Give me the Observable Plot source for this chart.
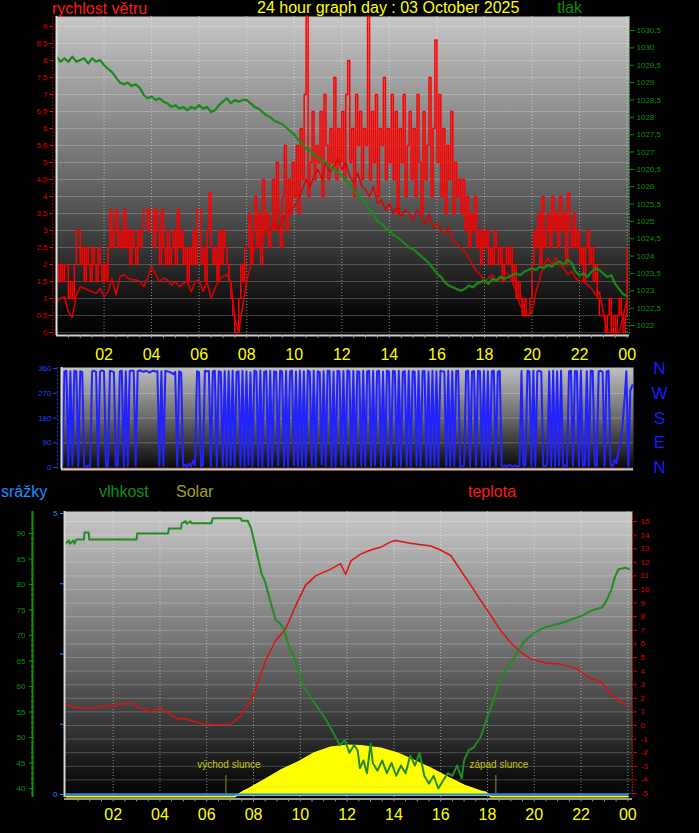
<!DOCTYPE html>
<html><head><meta charset="utf-8">
<script src="https://cdn.jsdelivr.net/npm/d3@7"></script>
<script src="https://cdn.jsdelivr.net/npm/@observablehq/plot@0.6"></script>
<style>
html,body{margin:0;padding:0;background:#000;}
#wrap{position:relative;width:699px;height:833px;background:#000;overflow:hidden;font-family:"Liberation Sans",Arial,sans-serif;}
#wrap svg{position:absolute;left:0;}
.lbl{position:absolute;font-size:16px;line-height:16px;white-space:nowrap;}
</style></head><body><div id="wrap"></div>
<script>
// ---------- DATA ----------
const hourTicks = [2,4,6,8,10,12,14,16,18,20,22,24];
const hourLabels = ["02","04","06","08","10","12","14","16","18","20","22","00"];
const windTicks = [0,0.5,1,1.5,2,2.5,3,3.5,4,4.5,5,5.5,6,6.5,7,7.5,8,8.5,9];
const pressTicks = [1022,1022.5,1023,1023.5,1024,1024.5,1025,1025.5,1026,1026.5,1027,1027.5,1028,1028.5,1029,1029.5,1030,1030.5];
const dirTicks = [0,90,180,270,360];
const compassLabels = ["N","E","S","W","N"];
const humTicks = [40,45,50,55,60,65,70,75,80,85,90];
const tempTicks = [-5,-4,-3,-2,-1,0,1,2,3,4,5,6,7,8,9,10,11,12,13,14,15];
const rainTicks = [0,1.25,2.5,3.75,5];
const rainTickLabels = ["0","","","","5"];

// wind gust (m/s), 5-minute samples 00:00..24:00
const gust5 = [
2,1.5,2,1.5,2,2,1,1.5,1,2,3,3,
2,2.5,1.5,2.5,2,1.5,2.5,2,1.5,2.5,2,1.5,
2,1.5,2.5,3.6,2.5,3,3.6,2.5,3,2.5,3.6,2.5,
3,2,3,2.5,2,3,2.5,3,3.6,3.6,3,3.6,
3.6,2.5,3.6,3,2,3.6,2.5,2,3,2,2.5,3,
2,3.6,2.5,3,2,2.5,1.5,2.5,2,3,2,3.6,
3.6,2,2.5,1.5,3,4.1,2.5,2,2.5,1.5,3,2,
3,2.5,2,1.5,1,0.5,0,0,1,2,1.5,2.5,
2.5,3.5,2,3,4,2.5,3.5,2,4.5,3,3.5,2.5,
3,4.5,3,5,3.5,2.5,4,5.5,3,4.5,3.5,5,
4,5.5,3.5,6,4.5,7,9.3,4,5,6.5,4.5,5.5,
5,6.5,4,7,5.5,4.5,6,5,7.5,4.5,6,5,
6.5,4.5,7,8,5,6,4,7,5.5,6.5,4.5,6,
5.5,9.3,4.5,6.5,5,7,4,6,5.5,7.5,4.5,6,
5,7,4.5,6.5,3.5,6,5,7,4,5.5,6.5,4.5,
6,4,7,5,3.5,6.5,4.5,5.5,7.5,4,6,8.6,
5,7,4,6,3.5,5.5,4.5,6.5,3.5,5,4,4.5,
3.5,4.5,3,4,2.5,3.5,3,4,2.5,3,2,3,
2.5,3,2,2.5,2,3,2.5,2,2.5,1.5,2,2.5,
2,2.5,1.5,2,1,1.5,1,0.5,1,0.5,0.5,1,
2,3,2.5,3.5,2,4,2.5,3,3.5,2.5,4,3,
3.5,2.5,4,3,3.5,2,4.1,3,2.5,3.5,2.5,3,
2,2.5,1.5,2.5,3,2,2.5,1.5,2,1,0.5,0.5,
0.5,0,0.5,1,0,0.5,0,0.5,1,0.5,0,0.5,
2.5];

// average wind (m/s), 10-minute samples
const avg10 = [
0.9,1.0,1.05,0.6,0.45,1.1,
1.35,1.3,1.25,1.2,1.15,1.3,
1.05,1.2,1.6,1.1,1.65,1.7,
1.6,1.55,1.55,1.5,1.35,1.6,
1.95,1.7,1.5,1.6,1.55,1.4,
1.5,1.35,1.45,1.5,1.2,1.5,
1.55,1.2,1.5,1.0,1.3,1.55,
1.65,1.7,1.5,0.4,0,0.8,
1.5,2.0,2.5,2.6,2.8,3.0,
3.0,3.2,3.0,3.3,3.5,3.6,
3.7,3.9,4.2,4.5,4.3,4.6,
4.8,4.5,5.0,4.7,4.9,5.1,
4.8,5.0,4.6,4.4,4.7,4.3,
4.2,4.0,4.3,3.8,3.9,3.6,
3.8,3.5,3.7,3.4,3.6,3.5,
3.3,3.6,3.4,3.2,3.5,3.1,
3.2,3.0,2.9,3.1,2.7,2.6,
2.5,2.4,2.2,2.0,1.8,1.7,
1.5,1.6,1.7,1.5,1.6,1.8,
1.7,1.5,1.2,0.8,0.6,0.5,
0.6,1.2,1.6,2.0,2.2,2.0,
2.2,2.0,1.9,1.7,1.8,1.6,
1.5,1.5,1.4,1.3,1.1,1.2,
0.6,0,0,0,0,0.5,
1.0];

// pressure (hPa), 10-minute samples
const press10 = [
1029.75,1029.6,1029.7,1029.6,1029.75,1029.6,
1029.65,1029.7,1029.55,1029.7,1029.6,1029.65,
1029.5,1029.4,1029.3,1029.15,1029.0,1028.95,
1029.0,1028.9,1028.95,1028.85,1028.65,1028.55,
1028.6,1028.5,1028.55,1028.45,1028.4,1028.3,
1028.35,1028.25,1028.3,1028.2,1028.3,1028.25,
1028.35,1028.25,1028.3,1028.15,1028.2,1028.35,
1028.45,1028.55,1028.4,1028.5,1028.45,1028.5,
1028.5,1028.4,1028.3,1028.25,1028.15,1028.05,
1028.0,1027.9,1027.85,1027.8,1027.7,1027.6,
1027.5,1027.35,1027.25,1027.1,1027.05,1026.9,
1026.85,1026.75,1026.7,1026.55,1026.5,1026.4,
1026.35,1026.2,1026.05,1025.9,1025.75,1025.65,
1025.55,1025.35,1025.2,1025.0,1024.95,1024.8,
1024.75,1024.6,1024.55,1024.45,1024.35,1024.25,
1024.2,1024.1,1024.0,1023.9,1023.8,1023.65,
1023.5,1023.4,1023.25,1023.15,1023.1,1023.05,
1023.0,1023.05,1023.15,1023.1,1023.2,1023.25,
1023.3,1023.2,1023.35,1023.3,1023.4,1023.35,
1023.4,1023.45,1023.5,1023.45,1023.55,1023.6,
1023.65,1023.6,1023.7,1023.65,1023.75,1023.7,
1023.8,1023.85,1023.75,1023.9,1023.8,1023.55,
1023.45,1023.5,1023.4,1023.55,1023.65,1023.6,
1023.5,1023.4,1023.45,1023.2,1023.05,1022.9,
1022.85];

// wind direction (degrees), 5-minute samples
const dir5 = [
10,350,352,5,350,8,352,350,6,350,348,5,
3,8,4,350,352,348,5,350,353,350,6,4,
352,350,348,5,8,350,352,4,350,7,351,352,
352,5,350,353,351,348,352,350,345,350,352,349,
350,6,350,8,352,350,348,345,340,348,5,350,
345,5,10,3,15,5,25,8,350,348,5,10,
352,350,351,5,350,352,4,350,348,6,350,5,
350,8,352,5,348,350,6,352,4,350,10,347,
5,352,350,7,353,3,349,350,6,352,5,350,
348,8,352,350,5,351,4,350,352,8,349,5,
352,6,350,4,353,349,7,352,5,350,348,10,
350,5,352,351,6,349,3,352,350,8,351,5,
353,350,6,352,4,350,349,7,352,5,350,352,
5,351,8,350,352,4,349,6,352,350,5,351,
350,7,352,5,348,351,6,352,4,350,349,8,
352,5,350,351,6,349,4,352,8,350,5,352,
350,349,6,352,5,350,7,351,352,4,5,8,
350,352,5,349,351,6,352,350,4,351,8,350,
5,350,352,7,349,351,5,6,8,4,10,6,
5,8,4,6,351,5,8,352,350,6,352,5,
350,352,348,5,6,10,350,5,352,4,350,8,
352,5,8,6,350,352,5,351,350,6,352,5,
8,350,5,352,351,10,5,350,352,348,6,350,
352,10,5,30,15,60,90,150,240,350,5,280,
300];

// humidity (%)
const humHours = [0,0.1,0.15,0.3,0.35,0.42,0.75,0.78,0.95,0.98,
3.0,3.03,4.35,4.38,4.9,4.93,5.1,5.15,5.3,5.35,
6.2,6.25,7.45,7.5,7.75,7.9,8.05,8.2,8.35,8.5,
8.7,8.95,9.1,9.3,9.5,9.8,10.0,10.2,10.5,10.8,
11.1,11.4,11.7,11.9,12.1,12.3,12.45,12.55,12.7,12.85,
13.0,13.1,13.3,13.5,13.7,13.9,14.1,14.3,14.5,14.7,
14.9,15.1,15.3,15.5,15.7,15.9,16.1,16.3,16.5,16.7,
16.9,17.0,17.2,17.4,17.7,18.0,18.3,18.6,19.0,19.3,
19.6,20.0,20.4,20.8,21.2,21.5,21.8,22.1,22.5,22.9,
23.05,23.3,23.45,23.6,23.9,24.05];
const humVals = [88.2,88.6,88.0,88.6,88.0,88.8,88.8,90.2,90.2,88.8,
88.8,90.0,90.0,91.0,91.0,92.0,92.4,91.9,92.4,92.0,
92.0,93.0,93.0,92.5,92.5,91,88,85,82,80.5,
77,73,72.5,71.3,68,65,62,59.5,57.5,55.5,
53.5,51,48.5,49.5,47,48.5,47.5,44,45.5,43,
48.8,45,43.5,45.5,43,45,42.5,44.5,43,46.5,
44.5,47,42.5,41,42.5,40,41.5,43,42.5,44.5,
42,45.5,47.5,48,50,54,58,62,64.5,67,
69,70.5,71.5,72,72.5,73,73.5,74,75,75.5,
76.5,79,81.5,83,83.3,83];

// temperature (°C)
const tempHours = [0,0.39,0.82,1.33,1.76,2.02,2.32,2.87,3.05,3.39,3.52,3.82,4.03,4.24,4.46,4.76,5.1,5.44,5.74,6.38,
7.02,7.45,7.88,8.22,8.52,8.95,9.37,9.8,10.22,10.65,11.3,11.72,11.94,12.16,12.58,13.0,13.43,13.86,14.06,14.7,
15.57,16.0,16.43,16.86,17.29,17.71,18.14,18.56,18.99,19.42,19.85,20.5,21.14,21.78,22.42,22.85,23.28,23.71,24.05];
const tempVals = [1.55,1.35,1.25,1.32,1.5,1.35,1.6,1.6,1.35,1.2,1.0,1.2,1.3,1.0,0.8,0.5,0.5,0.3,0.15,0.05,
0.1,0.7,1.8,3.3,4.8,6.25,7.1,8.8,10.3,11.0,11.5,11.9,11.1,12.1,12.6,12.9,13.1,13.5,13.6,13.4,
13.2,12.9,12.5,11.4,10.3,9.2,8.1,7.0,6.1,5.4,4.9,4.6,4.5,4.2,3.45,3.2,2.35,1.7,1.5];

// solar (W/m²)
const solarHours = [0,7.2,7.5,7.75,8.43,9.16,9.89,10.57,11.3,12.03,12.58,13.44,14.16,14.84,15.57,16.3,16.99,17.72,17.93,18.15,24];
const solarVals  = [0,0,40,70,160,260,340,430,490,510,505,480,430,360,280,190,110,50,40,0,0];

// rain (mm)
const rainHours = [0,24];
const rainVals = [0,0];

// sunrise / sunset
const sunHours = [6.82, 18.36];
const sunLabels = ["východ slunce", "západ slunce"];

// ---------- BUILD ----------
const W = 699;
const wrap = document.getElementById("wrap");
const FONT = "'Liberation Sans', Arial, sans-serif";
const baseStyle = {background: "transparent", color: "#fff", overflow: "visible", fontFamily: FONT};
const fmtC = d => String(+(+d).toFixed(1)).replace(".", ",");
const hourFmt = d => { const i = hourTicks.indexOf(d); return i < 0 ? "" : hourLabels[i]; };
const halfHours = d3.range(1, 49).map(i => i / 2);

function addGrad(svg, id, stops) {
  const ns = "http://www.w3.org/2000/svg";
  const defs = document.createElementNS(ns, "defs");
  const lg = document.createElementNS(ns, "linearGradient");
  lg.setAttribute("id", id);
  lg.setAttribute("x1", "0"); lg.setAttribute("y1", "0");
  lg.setAttribute("x2", "0"); lg.setAttribute("y2", "1");
  for (const [o, c] of stops) {
    const s = document.createElementNS(ns, "stop");
    s.setAttribute("offset", o); s.setAttribute("stop-color", c);
    lg.appendChild(s);
  }
  defs.appendChild(lg);
  svg.insertBefore(defs, svg.firstChild);
}
function place(svg, top) { svg.style.position = "absolute"; svg.style.top = top + "px"; svg.style.left = "0px"; wrap.appendChild(svg); }

// ---- Panel 1: wind speed + pressure ----
const gustData = gust5.map((v, i) => ({h: i / 12, v}));
const avgData = avg10.map((v, i) => ({h: i / 6, v}));
const pressData = press10.map((p, i) => ({h: i / 6, p}));
const x1Dom = [0, 24.1];
const wDom = [-0.088, 9.294];
const pDom = [1021.712, 1030.905];
const pToW = d3.scaleLinear(pDom, wDom);

const p1 = Plot.plot({
  width: W, height: 362,
  marginTop: 16, marginBottom: 27, marginLeft: 56, marginRight: 70,
  style: baseStyle,
  x: {domain: x1Dom, axis: null, label: null},
  y: {domain: wDom, axis: null, label: null},
  marks: [
    Plot.frame({fill: "url(#g1)", stroke: "none"}),
    Plot.gridY(windTicks, {stroke: "#fff", strokeOpacity: 0.22}),
    Plot.gridX(hourTicks, {stroke: "#fff", strokeOpacity: 0.5, strokeDasharray: "1,2"}),
    Plot.line(gustData, {x: "h", y: "v", stroke: "#ff0000", strokeWidth: 1.5, curve: "step-after"}),
    Plot.line(avgData, {x: "h", y: "v", stroke: "#e00000", strokeWidth: 1.5}),
    Plot.line(pressData, {x: "h", y: d => pToW(d.p), stroke: "#1a8a1a", strokeWidth: 2.2}),
    Plot.ruleX([x1Dom[0]], {stroke: "#e0e0e0", strokeWidth: 2}),
    Plot.ruleY([wDom[0]], {stroke: "#d0d0d0", strokeWidth: 2}),
    Plot.ruleX([x1Dom[0]], {dx: -3.5, stroke: "#e00000", strokeDasharray: "1.5,1.9"}),
    Plot.axisY(windTicks, {anchor: "left", dx: -3, tickSize: 4, tickPadding: 2, tickFormat: fmtC, color: "#e00000", fontSize: 8, label: null}),
    Plot.ruleX([x1Dom[1]], {stroke: "#1a9a1a", strokeDasharray: "1.5,1.9"}),
    Plot.axisY(pressTicks.map(pToW), {anchor: "right", tickSize: 4, tickPadding: 3, tickFormat: d => fmtC(pToW.invert(d)), color: "#109010", fontSize: 8, label: null}),
    Plot.axisX(halfHours, {anchor: "bottom", tickSize: 3, tickPadding: 0, tickFormat: () => "", color: "#999", label: null}),
    Plot.axisX(hourTicks, {anchor: "bottom", tickSize: 0, tickPadding: 13, tickFormat: hourFmt, color: "#ffff00", fontSize: 16, label: null})
  ]
});
addGrad(p1, "g1", [["0", "#c6c6c6"], ["0.5", "#6a6a6a"], ["0.93", "#080808"], ["1", "#000"]]);
place(p1, 0);

// ---- Panel 2: wind direction ----
const dirData = dir5.map((d, i) => ({h: i / 12, d}));
const x2Dom = [-0.04, 24.05];
const dDom = [-7, 364];
const p2 = Plot.plot({
  width: W, height: 118,
  marginTop: 5, marginBottom: 11, marginLeft: 61, marginRight: 66,
  style: baseStyle,
  x: {domain: x2Dom, axis: null, label: null},
  y: {domain: dDom, axis: null, label: null},
  marks: [
    Plot.frame({fill: "url(#g2)", stroke: "none"}),
    Plot.gridY([90, 180, 270], {stroke: "#fff", strokeOpacity: 0.25}),
    Plot.ruleY([-3], {stroke: "#c86414", strokeWidth: 1.5}),
    Plot.line(dirData, {x: "h", y: "d", stroke: "#2222ff", strokeWidth: 2}),
    Plot.ruleX([x2Dom[0]], {stroke: "#d8d8d8", strokeWidth: 2}),
    Plot.ruleY([dDom[0]], {stroke: "#c8c8c8", strokeWidth: 2}),
    Plot.ruleX([x2Dom[0]], {dx: -4, stroke: "#2244ff", strokeDasharray: "1.5,2.5"}),
    Plot.axisY(dirTicks, {anchor: "left", dx: -4, tickSize: 4, tickPadding: 2, color: "#2244ff", fontSize: 8, label: null}),
    Plot.text(compassLabels, {y: (d, i) => dirTicks[i], text: d => d, frameAnchor: "right", dx: 26, textAnchor: "middle", fill: "#1a1aff", fontSize: 17})
  ]
});
addGrad(p2, "g2", [["0", "#c0c0c0"], ["0.5", "#686868"], ["1", "#060606"]]);
place(p2, 362);

// ---- Panel 3: humidity, temperature, solar, rain ----
const humData = humHours.map((h, i) => ({h, v: humVals[i]}));
const tempData = tempHours.map((h, i) => ({h, t: tempVals[i]}));
const solarData = solarHours.map((h, i) => ({h, s: solarVals[i]}));
const rainData = rainHours.map((h, i) => ({h, r: rainVals[i]}));
const sunData = sunHours.map((h, i) => ({h, label: sunLabels[i]}));
const x3Dom = [-0.08, 24.2];
const hDom = [38.235, 94.31];
const tToH = d3.scaleLinear([-5.294, 15.735], hDom);
const rToH = d3.scaleLinear([-0.053, 5.036], hDom);
const sToH = d3.scaleLinear([-10, 2850], hDom);
const rainFmt = d => { const r = rToH.invert(d); const i = rainTicks.findIndex(t => Math.abs(t - r) < 0.01); return i < 0 ? "" : rainTickLabels[i]; };

const p3 = Plot.plot({
  width: W, height: 353,
  marginTop: 31, marginBottom: 36, marginLeft: 64, marginRight: 67,
  style: baseStyle,
  x: {domain: x3Dom, axis: null, label: null},
  y: {domain: hDom, axis: null, label: null},
  marks: [
    Plot.frame({fill: "url(#g3)", stroke: "none"}),
    Plot.gridY(tempTicks.map(tToH), {stroke: "#fff", strokeOpacity: 0.22}),
    Plot.gridX(hourTicks, {stroke: "#fff", strokeOpacity: 0.5, strokeDasharray: "1,2"}),
    Plot.areaY(solarData, {x: "h", y1: d => sToH(0), y2: d => sToH(d.s), fill: "#ffff00"}),
    Plot.line(solarData, {x: "h", y: d => sToH(d.s), stroke: "#ffff00", strokeWidth: 2}),
    Plot.line(rainData, {x: "h", y: d => rToH(d.r), stroke: "#1a8cff", strokeWidth: 2}),
    Plot.ruleX(sunData, {x: "h", y1: d => sToH(30), y2: d => sToH(210), stroke: "#8c8c1e", strokeWidth: 1}),
    Plot.text(sunData, {x: "h", y: d => sToH(320), text: "label", dx: 3, fill: "#c8c81e", fontSize: 10}),
    Plot.line(tempData, {x: "h", y: d => tToH(d.t), stroke: "#e01010", strokeWidth: 1.5}),
    Plot.line(humData, {x: "h", y: "v", stroke: "#228b22", strokeWidth: 2}),
    Plot.ruleX([x3Dom[0]], {stroke: "#d8d8d8", strokeWidth: 2}),
    Plot.ruleY([hDom[0]], {dy: 1.5, stroke: "#c8c8c8", strokeWidth: 1.5}),
    // humidity axis (far left)
    Plot.ruleX([x3Dom[0]], {dx: -32, stroke: "#109010", strokeWidth: 2}),
    Plot.axisY(d3.range(39, 95), {anchor: "left", dx: -30, tickSize: 3, tickFormat: () => "", color: "#109010", label: null}),
    Plot.axisY(humTicks, {anchor: "left", dx: -31, tickSize: 4, tickPadding: 4, color: "#109010", fontSize: 8, label: null}),
    // rain axis
    Plot.axisY(rainTicks.map(rToH), {anchor: "left", tickSize: 4, tickPadding: 3, tickFormat: rainFmt, color: "#1e8fff", fontSize: 8, label: null}),
    // temperature axis (right)
    Plot.ruleX([x3Dom[1]], {stroke: "#e00000", strokeDasharray: "1.5,1.5"}),
    Plot.axisY(tempTicks.map(tToH), {anchor: "right", tickSize: 4, tickPadding: 4, tickFormat: d => String(Math.round(tToH.invert(d))), color: "#e00000", fontSize: 8, label: null}),
    Plot.axisX(halfHours, {anchor: "bottom", dy: 1.5, tickSize: 3, tickPadding: 0, tickFormat: () => "", color: "#999", label: null}),
    Plot.axisX(hourTicks, {anchor: "bottom", tickSize: 0, tickPadding: 11, tickFormat: hourFmt, color: "#ffff00", fontSize: 16, label: null})
  ]
});
addGrad(p3, "g3", [["0", "#c8c8c8"], ["0.5", "#6c6c6c"], ["0.95", "#0a0a0a"], ["1", "#050505"]]);
place(p3, 480);

// ---- Titles / legends ----
const titles = [
  {t: "rychlost větru", x: 52, b: 14, c: "#ff1a1a"},
  {t: "24 hour graph day : 03 October 2025", x: 257, b: 13.5, c: "#ffff00"},
  {t: "tlak", x: 557, b: 13.5, c: "#0c8c0c"},
  {t: "srážky", x: 1, b: 497, c: "#1e8fff"},
  {t: "vlhkost", x: 99, b: 497, c: "#119011"},
  {t: "Solar", x: 176, b: 497, c: "#a89f10"},
  {t: "teplota", x: 468, b: 497, c: "#ff1a1a"}
];
for (const d of titles) {
  const el = document.createElement("div");
  el.className = "lbl";
  el.textContent = d.t;
  el.style.left = d.x + "px";
  el.style.top = (d.b - 13.5) + "px";
  el.style.color = d.c;
  wrap.appendChild(el);
}
</script></body></html>
